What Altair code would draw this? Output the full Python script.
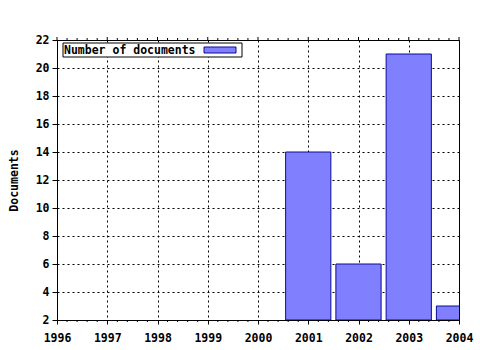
import altair as alt
import pandas as pd

years = [2001, 2002, 2003, 2004]
documents = [14, 6, 21, 3]
year_ticks = [1996, 1997, 1998, 1999, 2000, 2001, 2002, 2003, 2004]
doc_ticks = [2, 4, 6, 8, 10, 12, 14, 16, 18, 20, 22]
minor_ticks = [y + f / 5 for y in year_ticks[:-1] for f in range(1, 5)]
legend_label = "Number of documents"
y_title = "Documents"

FONT = "DejaVu Sans Mono"
FILL = "#8080ff"
EDGE = "#0a0a99"
W, H = 402, 280

df = pd.DataFrame({"year": years, "docs": documents})
df["x0"] = df["year"] - 0.45
df["x1"] = df["year"] + 0.45
df["base"] = 2

xscale = alt.Scale(domain=[1996, 2004], nice=False, zero=False)
yscale = alt.Scale(domain=[2, 22], nice=False, zero=False)

bars = alt.Chart(df).mark_rect(fill=FILL, stroke=EDGE, strokeWidth=1, clip=True).encode(
    x=alt.X("x0:Q", scale=xscale, axis=alt.Axis(
        values=year_ticks, format="d", title=None, grid=True, tickSize=4,
        labelPadding=8, labelFlush=False)),
    x2="x1:Q",
    y=alt.Y("docs:Q", scale=yscale, axis=alt.Axis(
        values=doc_ticks, title=y_title, grid=True, tickSize=5, labelPadding=3,
        titleX=-43, titleY=H / 2, titleAlign="center", titleBaseline="middle")),
    y2="base:Q",
)

minor_df = pd.DataFrame({"m": minor_ticks})
major_df = pd.DataFrame({"m": year_ticks})

minor_bottom = alt.Chart(minor_df).mark_rule(color="black", strokeWidth=1).encode(
    x=alt.X("m:Q", scale=xscale), y=alt.value(H), y2=alt.value(H + 2))
minor_top = alt.Chart(minor_df).mark_rule(color="black", strokeWidth=1).encode(
    x=alt.X("m:Q", scale=xscale), y=alt.value(-2), y2=alt.value(0))
major_top = alt.Chart(major_df).mark_rule(color="black", strokeWidth=1).encode(
    x=alt.X("m:Q", scale=xscale), y=alt.value(-3), y2=alt.value(0))

leg_df = pd.DataFrame({"label": [legend_label]})
leg_box = alt.Chart(leg_df).mark_rect(fill="white", stroke="black", strokeWidth=1).encode(
    x=alt.value(6), x2=alt.value(185), y=alt.value(3), y2=alt.value(17))
leg_text = alt.Chart(leg_df).mark_text(
    font=FONT, fontWeight="bold", fontSize=11.5, align="left", baseline="middle", color="black"
).encode(x=alt.value(7), y=alt.value(10.5), text="label:N")
leg_swatch = alt.Chart(leg_df).mark_rect(fill=FILL, stroke=EDGE, strokeWidth=1).encode(
    x=alt.value(147), x2=alt.value(179), y=alt.value(7), y2=alt.value(13))

chart = alt.layer(
    bars, minor_bottom, minor_top, major_top, leg_box, leg_text, leg_swatch
).properties(
    width=W, height=H,
    autosize=alt.AutoSizeParams(type="none"),
    padding={"left": 57, "top": 40, "right": 21, "bottom": 30},
    background="white",
).configure_view(
    stroke="black", strokeWidth=1
).configure_axis(
    labelFont=FONT, labelFontWeight="bold", labelFontSize=11.5, labelColor="black",
    titleFont=FONT, titleFontWeight="bold", titleFontSize=11.5, titleColor="black",
    domainColor="black", domainWidth=1, tickColor="black", tickWidth=1,
    gridColor="black", gridOpacity=1, gridDash=[2, 3], gridWidth=1,
)

chart.save("out.html", embed_options={"renderer": "svg", "actions": False})
